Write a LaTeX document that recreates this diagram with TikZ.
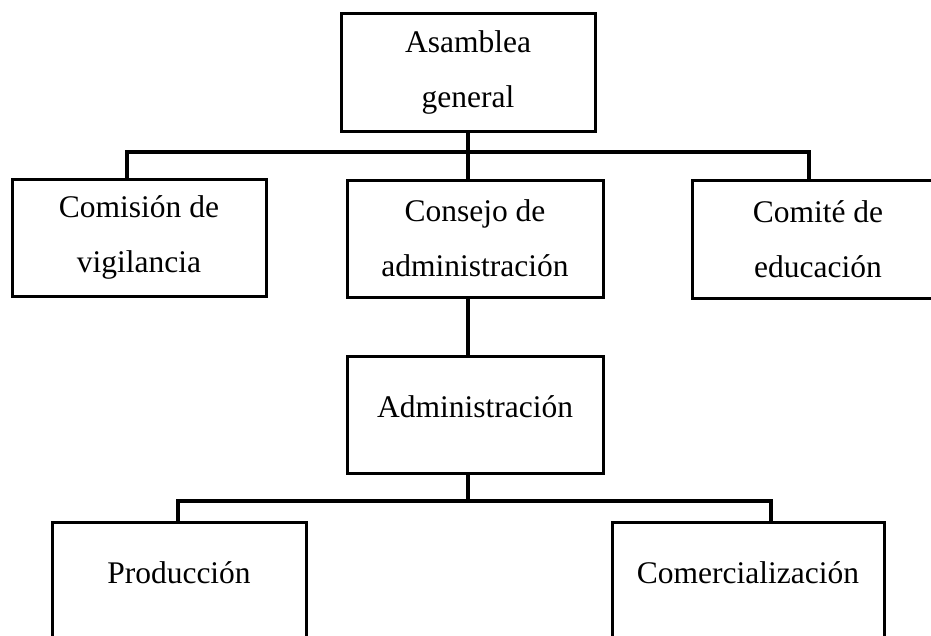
\documentclass[tikz,border=0pt]{standalone}
\usepackage{fontspec}
\setmainfont{Liberation Serif}
\begin{document}
\begin{tikzpicture}[x=1pt,y=-1pt,
  orgbox/.style={draw=black, line width=3pt, rectangle, inner sep=0pt, align=center,
    font=\fontsize{31.5}{55}\selectfont},
  conn/.style={draw=black, line width=4.5pt}]
\useasboundingbox (0,0) rectangle (931,635);
\clip (0,0) rectangle (931,635);
% boxes
\node[orgbox, minimum width=254pt, minimum height=118pt] (ag) at (468,72) {Asamblea\\general};
\node[orgbox, minimum width=254pt, minimum height=117pt] (cv) at (139,237.5) {Comisión de\\vigilancia};
\node[orgbox, minimum width=256pt, minimum height=117pt] (cda) at (475,238.5) {Consejo de\\administración};
\node[orgbox, minimum width=252pt, minimum height=118pt] (ce) at (818,239) {Comité de\\educación};
\node[orgbox, minimum width=256pt, minimum height=117pt, text height=22pt, text depth=17pt] (adm) at (475,414.5) {Administración};
\node[orgbox, minimum width=254pt, minimum height=140pt, text height=22pt, text depth=40pt] (prod) at (179,592) {Producción};
\node[orgbox, minimum width=272pt, minimum height=140pt, text height=22pt, text depth=40pt] (com) at (748,592) {Comercialización};
% bus coordinates
\coordinate (b1) at (127,152);
\coordinate (b2) at (809,152);
\coordinate (b3) at (178,501);
\coordinate (b4) at (771,501);
% connectors
\draw[conn] (ag.south) -- (ag.south |- cda.north);
\draw[conn] (b1 |- cv.north) -- (b1) -- (b2) -- (b2 |- ce.north);
\draw[conn] (ag.south |- cda.south) -- (ag.south |- adm.north);
\draw[conn] (ag.south |- adm.south) -- (ag.south |- b3);
\draw[conn] (b3 |- prod.north) -- (b3) -- (b4) -- (b4 |- com.north);
\end{tikzpicture}
\end{document}
